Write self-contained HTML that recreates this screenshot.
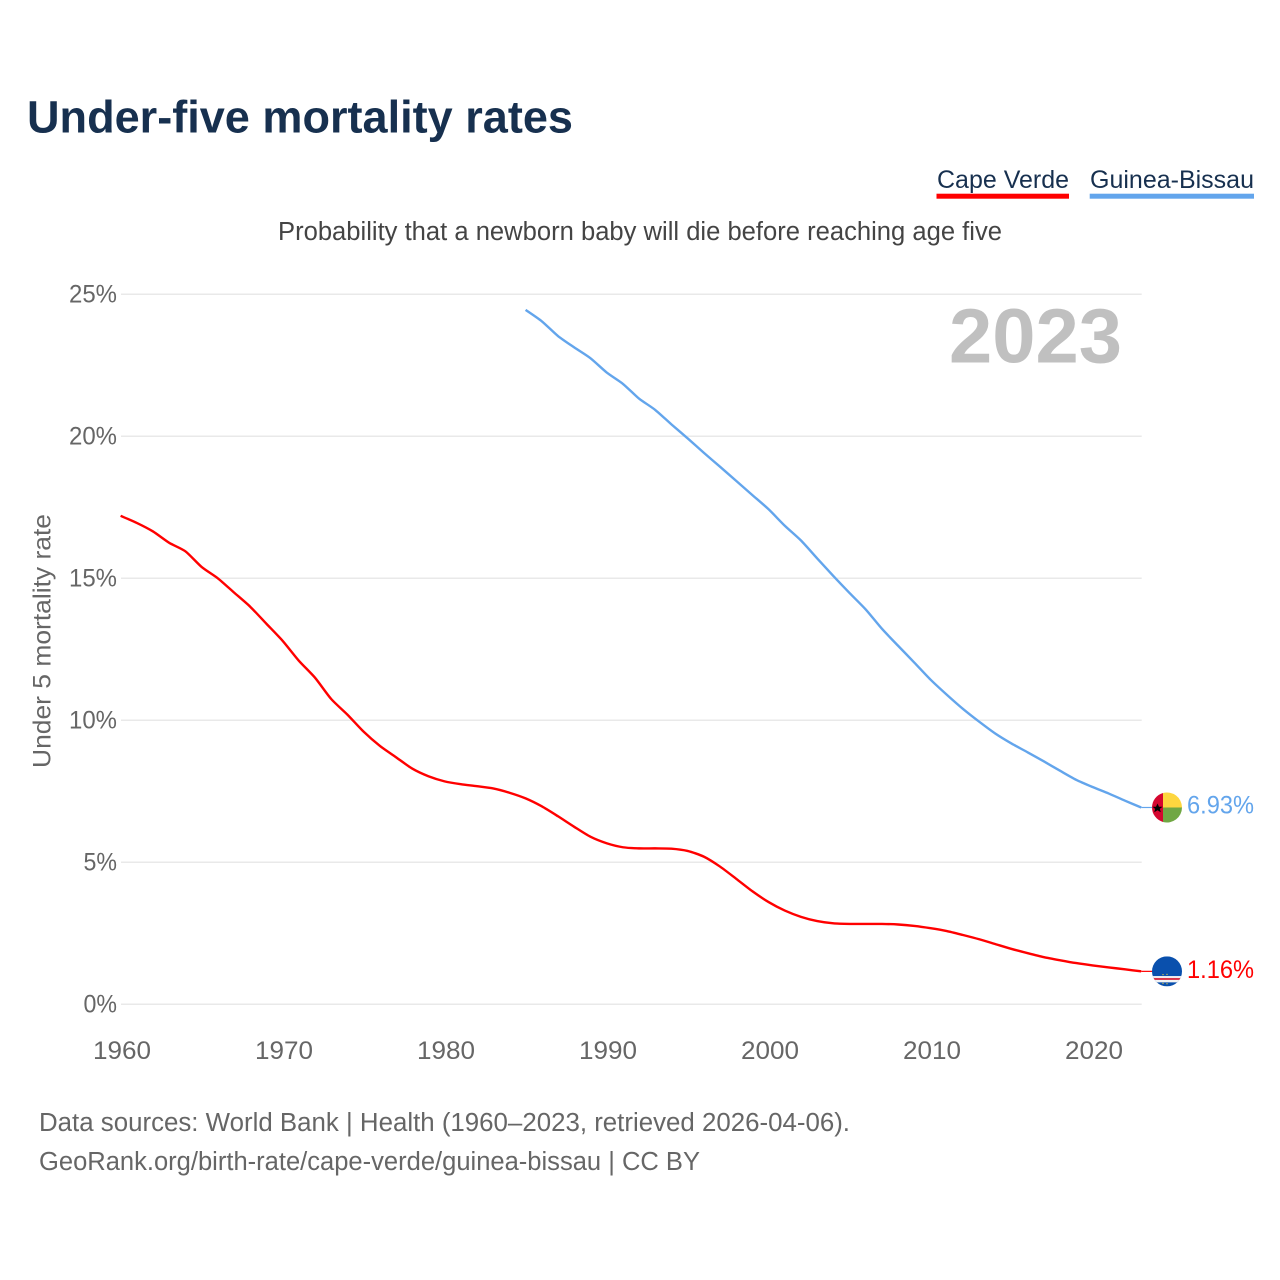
<!DOCTYPE html>
<html>
<head>
<meta charset="utf-8">
<title>Under-five mortality rates</title>
<style>
html,body{margin:0;padding:0;background:#fff;}
svg{display:block;}
text{font-family:"Liberation Sans",sans-serif;}
</style>
</head>
<body>
<svg id="chart" xmlns="http://www.w3.org/2000/svg" width="1280" height="1280" viewBox="0 0 1280 1280">
  <rect width="1280" height="1280" fill="#fff"/>
  <text x="27" y="132.5" font-size="45" font-weight="700" fill="#17304f" textLength="546" lengthAdjust="spacingAndGlyphs">Under-five mortality rates</text>

  <g>
    <text x="937" y="188" font-size="25" fill="#17304f" textLength="132" lengthAdjust="spacingAndGlyphs">Cape Verde</text>
    <rect x="936.5" y="193.7" width="132.5" height="5" fill="#ff0000"/>
  </g>
  <g>
    <text x="1090" y="188" font-size="25" fill="#17304f" textLength="164" lengthAdjust="spacingAndGlyphs">Guinea-Bissau</text>
    <rect x="1089.7" y="193.7" width="164.3" height="5" fill="#63a5ec"/>
  </g>

  <text x="278" y="240" font-size="25.5" fill="#444" textLength="724" lengthAdjust="spacingAndGlyphs">Probability that a newborn baby will die before reaching age five</text>

  <g id="grid"></g>
  <g id="yticks"></g>
  <g id="xticks"></g>

  <text transform="translate(50.5,768) rotate(-90)" font-size="25" fill="#666" textLength="254" lengthAdjust="spacingAndGlyphs">Under 5 mortality rate</text>

  <text x="949" y="362.5" font-size="77" font-weight="700" fill="#c0c0c0" textLength="173" lengthAdjust="spacingAndGlyphs">2023</text>

  <g id="series"></g>
  <g id="flags"></g>

  <text x="39" y="1131" font-size="25.5" fill="#666" textLength="811" lengthAdjust="spacingAndGlyphs">Data sources: World Bank | Health (1960–2023, retrieved 2026-04-06).</text>
  <text x="39" y="1170" font-size="25.5" fill="#666" textLength="661" lengthAdjust="spacingAndGlyphs">GeoRank.org/birth-rate/cape-verde/guinea-bissau | CC BY</text>
</svg>
<script>
const yTickValues = [0, 5, 10, 15, 20, 25];
const xTickYears = [1960, 1970, 1980, 1990, 2000, 2010, 2020];
const capeVerdeStartYear = 1960;
const capeVerdeValues = [17.2,16.95,16.65,16.25,15.95,15.4,15.0,14.5,14.0,13.4,12.8,12.1,11.5,10.75,10.2,9.6,9.1,8.7,8.3,8.03,7.85,7.75,7.68,7.6,7.45,7.25,6.97,6.62,6.25,5.9,5.67,5.53,5.49,5.49,5.48,5.4,5.2,4.85,4.42,3.98,3.6,3.3,3.08,2.93,2.85,2.83,2.83,2.83,2.81,2.76,2.68,2.58,2.44,2.29,2.12,1.95,1.8,1.66,1.55,1.45,1.37,1.3,1.23,1.16];
const guineaBissauStartYear = 1985;
const guineaBissauValues = [24.45,24.05,23.53,23.13,22.75,22.25,21.85,21.33,20.93,20.42,19.93,19.42,18.93,18.43,17.93,17.43,16.85,16.33,15.7,15.08,14.48,13.9,13.22,12.62,12.03,11.43,10.9,10.4,9.95,9.53,9.18,8.87,8.55,8.22,7.9,7.65,7.42,7.17,6.93];

const NS = 'http://www.w3.org/2000/svg';
function xScale(year){ return 120.6 + (year - 1960) * 16.2; }
function xLabel(year){ return 122 + (year - 1960) * 16.2; }
function yScale(v){ return 1004.3 - v * 28.4; }
function make(tag, attrs, parent){
  const el = document.createElementNS(NS, tag);
  for (const k in attrs) el.setAttribute(k, attrs[k]);
  parent.appendChild(el);
  return el;
}
const grid = document.getElementById('grid');
const yticks = document.getElementById('yticks');
const xticks = document.getElementById('xticks');
const series = document.getElementById('series');
const flags = document.getElementById('flags');

yTickValues.forEach(function(v){
  const line = make('line', {x1:121, x2:1141.7, y1:yScale(v), y2:yScale(v), stroke:'#e9e9e9', 'stroke-width':1.5}, grid);
  
  
  const label = v + '%';
  const t = make('text', {x:117, y:yScale(v)+8, 'font-size':25, fill:'#666', 'text-anchor':'end', textLength:(String(v).length*14.5+19), lengthAdjust:'spacingAndGlyphs'}, yticks);
  t.textContent = label;
  
  
});

xTickYears.forEach(function(y){
  const t = make('text', {x:xLabel(y), y:1059, 'font-size':25, fill:'#666', 'text-anchor':'middle', textLength:58, lengthAdjust:'spacingAndGlyphs'}, xticks);
  t.textContent = String(y);
  
  
});

function linePath(start, values){
  const pts = values.map(function(v, i){ return [xScale(start + i), yScale(v)]; });
  const k = 0.12;
  let d = 'M' + pts[0][0].toFixed(2) + ' ' + pts[0][1].toFixed(2);
  for (let i = 0; i < pts.length - 1; i++){
    const p0 = pts[Math.max(i - 1, 0)], p1 = pts[i], p2 = pts[i + 1], p3 = pts[Math.min(i + 2, pts.length - 1)];
    d += ' C' + (p1[0] + (p2[0] - p0[0]) * k).toFixed(2) + ' ' + (p1[1] + (p2[1] - p0[1]) * k).toFixed(2) +
         ' ' + (p2[0] - (p3[0] - p1[0]) * k).toFixed(2) + ' ' + (p2[1] - (p3[1] - p1[1]) * k).toFixed(2) +
         ' ' + p2[0].toFixed(2) + ' ' + p2[1].toFixed(2);
  }
  return d;
}

const cvPath = make('path', {d:linePath(capeVerdeStartYear, capeVerdeValues), fill:'none', stroke:'#ff0000', 'stroke-width':2.4, 'stroke-linejoin':'round'}, series);


const gbPath = make('path', {d:linePath(guineaBissauStartYear, guineaBissauValues), fill:'none', stroke:'#63a5ec', 'stroke-width':2.4, 'stroke-linejoin':'round'}, series);



const lastYear = 2023;
const gbLast = guineaBissauValues[guineaBissauValues.length - 1];
const cvLast = capeVerdeValues[capeVerdeValues.length - 1];
const fx = 1167, fr = 15;

// connectors
const gbConn = make('line', {x1:xScale(lastYear), x2:1153, y1:yScale(gbLast), y2:yScale(gbLast), stroke:'#63a5ec', 'stroke-width':1.2}, flags);


const cvConn = make('line', {x1:xScale(lastYear), x2:1153, y1:yScale(cvLast), y2:yScale(cvLast), stroke:'#ff0000', 'stroke-width':1.2}, flags);



// Guinea-Bissau flag
const gy = yScale(gbLast);
const gbFlag = make('g', {transform:'translate(' + fx + ',' + gy + ')'}, flags);


make('path', {d:'M-4 -14.45 A15 15 0 0 0 -4 14.45 Z', fill:'#d5062f'}, gbFlag);
make('path', {d:'M-4 -14.45 A15 15 0 0 1 15 0 L-4 0 Z', fill:'#fdd63f'}, gbFlag);
make('path', {d:'M-4 14.45 A15 15 0 0 0 15 0 L-4 0 Z', fill:'#70a743'}, gbFlag);
make('polygon', {points:'-9.5,-4 -8,-0.7 -4.5,-0.7 -7.2,1.4 -6.2,4.8 -9.5,2.8 -12.8,4.8 -11.8,1.4 -14.5,-0.7 -11,-0.7', fill:'#000'}, gbFlag);

// Cape Verde flag
const cy = yScale(cvLast);
const cvFlag = make('g', {transform:'translate(' + fx + ',' + cy + ')'}, flags);


const clip = make('clipPath', {id:'cvClip'}, cvFlag);
make('circle', {cx:0, cy:0, r:fr}, clip);
const cvInner = make('g', {'clip-path':'url(#cvClip)'}, cvFlag);
make('rect', {x:-15, y:-15, width:30, height:30, fill:'#0a50ad'}, cvInner);
make('rect', {x:-15, y:4.7, width:30, height:6.3, fill:'#f4f4f4'}, cvInner);
make('rect', {x:-15, y:6.6, width:30, height:2, fill:'#d9344a'}, cvInner);
make('circle', {cx:-4, cy:3.3, r:0.6, fill:'#f2d33a'}, cvInner);
make('circle', {cx:0, cy:3, r:0.6, fill:'#f2d33a'}, cvInner);
make('circle', {cx:-4, cy:12, r:0.6, fill:'#f2d33a'}, cvInner);
make('circle', {cx:0, cy:12.4, r:0.6, fill:'#f2d33a'}, cvInner);

// value labels
const gbLabel = make('text', {x:1187, y:gy+6, 'font-size':25, fill:'#63a5ec', textLength:67, lengthAdjust:'spacingAndGlyphs'}, flags);
gbLabel.textContent = gbLast.toFixed(2) + '%';


const cvLabel = make('text', {x:1187, y:cy+6.5, 'font-size':25, fill:'#ff0000', textLength:67, lengthAdjust:'spacingAndGlyphs'}, flags);
cvLabel.textContent = cvLast.toFixed(2) + '%';


</script>
</body>
</html>
